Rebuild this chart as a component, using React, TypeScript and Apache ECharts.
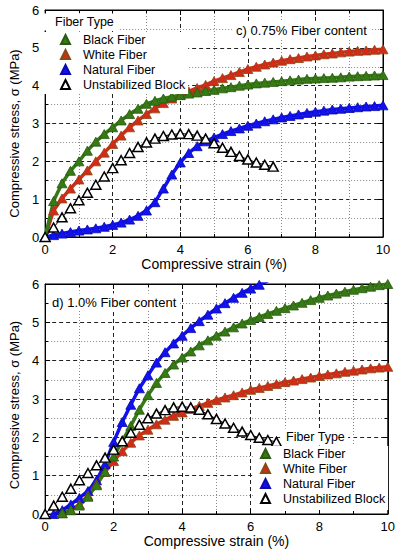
import React, { useEffect, useRef } from "react";
import * as echarts from "echarts";

const FONT = "'Liberation Sans', Arial, Helvetica, sans-serif";

// Strain grid (%) shared by every curve
const strain = [
  0, 0.25, 0.5, 0.75, 1, 1.25, 1.5, 1.75, 2, 2.25, 2.5, 2.75, 3, 3.25, 3.5, 3.75, 4, 4.25, 4.5, 4.75,
  5, 5.25, 5.5, 5.75, 6, 6.25, 6.5, 6.75, 7, 7.25, 7.5, 7.75, 8, 8.25, 8.5, 8.75, 9, 9.25, 9.5, 9.75, 10,
];

const fiberTypes = ["Black Fiber", "White Fiber", "Natural Fiber", "Unstabilized Block"];

// c) 0.75% fibre content — compressive stress (MPa)
const c_black = [
  0, 0.95, 1.42, 1.75, 2.0, 2.28, 2.52, 2.72, 2.9, 3.08, 3.25, 3.39, 3.52, 3.6, 3.66, 3.71, 3.75, 3.79, 3.82, 3.86,
  3.89, 3.93, 3.96, 4.0, 4.03, 4.06, 4.08, 4.1, 4.12, 4.14, 4.16, 4.18, 4.19, 4.2, 4.21, 4.22, 4.24, 4.25, 4.26, 4.27, 4.28,
];
const c_white = [
  0, 0.7, 1.02, 1.28, 1.52, 1.76, 2.0, 2.23, 2.46, 2.68, 2.9, 3.08, 3.25, 3.4, 3.54, 3.66, 3.76, 3.85, 3.94, 4.02,
  4.12, 4.2, 4.28, 4.36, 4.44, 4.5, 4.56, 4.61, 4.66, 4.7, 4.73, 4.77, 4.8, 4.83, 4.85, 4.88, 4.9, 4.92, 4.93, 4.95, 4.96,
];
const c_natural = [
  0, 0.05, 0.09, 0.13, 0.17, 0.2, 0.23, 0.27, 0.32, 0.38, 0.46, 0.56, 0.7, 0.92, 1.28, 1.65, 1.97, 2.22, 2.4, 2.53,
  2.63, 2.72, 2.8, 2.87, 2.94, 3.0, 3.06, 3.11, 3.16, 3.2, 3.24, 3.28, 3.31, 3.34, 3.37, 3.39, 3.41, 3.43, 3.45, 3.46, 3.48,
];
const c_unstab = [
  0, 0.25, 0.52, 0.76, 0.97, 1.17, 1.38, 1.6, 1.82, 2.03, 2.22, 2.38, 2.5, 2.6, 2.67, 2.71, 2.73, 2.72, 2.68, 2.6,
  2.48, 2.36, 2.25, 2.14, 2.05, 1.97, 1.91, 1.86,
];

// d) 1.0% fibre content — compressive stress (MPa)
const d_black = [
  null, null, 0.02, 0.1, 0.22, 0.45, 0.75, 1.1, 1.5, 1.9, 2.3, 2.72, 3.1, 3.42, 3.68, 3.9, 4.08, 4.24, 4.4, 4.53,
  4.65, 4.76, 4.87, 4.97, 5.06, 5.14, 5.22, 5.3, 5.37, 5.44, 5.51, 5.58, 5.64, 5.7, 5.75, 5.8, 5.85, 5.89, 5.93, 5.97, 6.0,
];
const d_white = [
  null, null, 0.02, 0.1, 0.25, 0.48, 0.78, 1.1, 1.38, 1.64, 1.86, 2.05, 2.2, 2.34, 2.46, 2.56, 2.65, 2.74, 2.82, 2.9,
  2.97, 3.04, 3.1, 3.17, 3.24, 3.29, 3.34, 3.39, 3.44, 3.48, 3.52, 3.56, 3.6, 3.64, 3.67, 3.71, 3.74, 3.77, 3.8, 3.82, 3.84,
];
const d_natural = [
  null, 0.0, 0.1, 0.25, 0.42, 0.6, 0.88, 1.3, 1.88, 2.4, 2.85, 3.28, 3.62, 3.95, 4.22, 4.45, 4.65, 4.85, 5.03, 5.2,
  5.36, 5.5, 5.64, 5.77, 5.88, 5.98, 6.08,
];
const d_unstab = [
  0, 0.22, 0.45, 0.66, 0.88, 1.07, 1.27, 1.47, 1.68, 1.9, 2.12, 2.33, 2.5, 2.62, 2.71, 2.78, 2.8, 2.78, 2.72, 2.6,
  2.48, 2.36, 2.25, 2.15, 2.06, 1.99, 1.93, 1.88,
];

const GREEN = "#357a14";
const RED = "#d42a18";
const BLUE = "#1212f0";

function pairs(ys: (number | null)[]) {
  return ys.map((y, i) => [strain[i], y]);
}

function xAx(gridIndex: number, mirror: boolean) {
  return {
    type: "value",
    gridIndex,
    min: 0,
    max: 10,
    interval: 2,
    position: mirror ? "top" : "bottom",
    axisLine: { show: true, onZero: false, lineStyle: { color: "#000", width: 1 } },
    axisTick: { show: true, inside: true, length: 5, lineStyle: { color: "#000" } },
    minorTick: { show: true, splitNumber: 2, length: 3, lineStyle: { color: "#000" } },
    axisLabel: { show: !mirror, color: "#000", fontSize: 13, margin: 6, fontFamily: FONT },
    splitLine: { show: !mirror, lineStyle: { color: "#222", width: 1, type: [4, 3] } },
    minorSplitLine: { show: !mirror, lineStyle: { color: "#888", width: 1, type: [1, 2] } },
    name: mirror ? "" : "Compressive strain (%)",
    nameLocation: "middle",
    nameGap: 19,
    nameTextStyle: { fontSize: 14, color: "#000", fontFamily: FONT },
  };
}

function yAx(gridIndex: number, mirror: boolean, shift: number) {
  return {
    type: "value",
    gridIndex,
    min: 0,
    max: 6,
    interval: 1,
    position: mirror ? "right" : "left",
    axisLine: { show: true, onZero: false, lineStyle: { color: "#000", width: 1 } },
    axisTick: { show: true, inside: true, length: 5, lineStyle: { color: "#000" } },
    minorTick: { show: true, splitNumber: 2, length: 3, lineStyle: { color: "#000" } },
    axisLabel: { show: !mirror, color: "#000", fontSize: 13, margin: 6, fontFamily: FONT },
    splitLine: { show: !mirror, lineStyle: { color: "#222", width: 1, type: [4, 3] } },
    minorSplitLine: { show: !mirror, lineStyle: { color: "#888", width: 1, type: [1, 2] } },
    name: mirror ? "" : "Compressive stress, σ (MPa)",
    nameLocation: "middle",
    nameGap: 20,
    nameTextStyle: { fontSize: 13, color: "#000", fontFamily: FONT, padding: [0, shift, 0, 0] },
  };
}

function fiberSeries(name: string, ys: (number | null)[], g: number, color: string, border: string) {
  return {
    type: "line",
    name,
    xAxisIndex: g,
    yAxisIndex: g,
    data: pairs(ys),
    symbol: "triangle",
    symbolSize: [10, 9],
    showAllSymbol: true,
    connectNulls: false,
    lineStyle: { color, width: 3.5 },
    itemStyle: { color, borderColor: border, borderWidth: 0.8 },
    emphasis: { disabled: true },
  };
}

function unstabSeries(ys: (number | null)[], g: number) {
  return {
    type: "line",
    name: "Unstabilized Block",
    xAxisIndex: g,
    yAxisIndex: g,
    data: pairs(ys),
    symbol: "triangle",
    symbolSize: [10, 9],
    showAllSymbol: true,
    lineStyle: { color: "#000", width: 1 },
    itemStyle: { color: "#fff", borderColor: "#000", borderWidth: 1.5 },
    emphasis: { disabled: true },
  };
}

function legendAt(left: number, top: number, padding: number[]) {
  return {
    show: true,
    orient: "vertical",
    left,
    top,
    padding,
    backgroundColor: "#fff",
    itemWidth: 9,
    itemHeight: 9,
    itemGap: 0,
    icon: "triangle",
    selectedMode: false,
    textStyle: { fontSize: 12.5, color: "#000", fontFamily: FONT, lineHeight: 15, padding: [0, 0, 0, 8] },
    data: fiberTypes,
  };
}

function label(text: string, x: number, y: number, size: number, padding: number[]) {
  return {
    type: "text",
    x,
    y,
    z: 100,
    style: {
      text,
      fontSize: size,
      fontFamily: FONT,
      fill: "#000",
      verticalAlign: "middle",
      backgroundColor: "#fff",
      padding,
    },
  };
}

export default function App() {
  const ref = useRef<HTMLDivElement>(null);
  useEffect(() => {
    if (!ref.current) return;
    const chart = echarts.init(ref.current, undefined, { renderer: "svg" });
    chart.setOption({
      animation: false,
      backgroundColor: "#fff",
      grid: [
        { left: 41, top: 10, width: 342, height: 227, show: true, borderColor: "#000", borderWidth: 1, backgroundColor: "#fff" },
        { left: 36, top: 284, width: 352, height: 230, show: true, borderColor: "#000", borderWidth: 1, backgroundColor: "#fff" },
      ],
      xAxis: [xAx(0, false), xAx(1, false), xAx(0, true), xAx(1, true)],
      yAxis: [yAx(0, false, 20), yAx(1, false, 12), yAx(0, true, 0), yAx(1, true, 0)],
      legend: [legendAt(42, 32, [0, 3, 2, 18]), legendAt(253, 446, [0, 3, 4, 7])],
      graphic: [
        label("Fiber Type", 42, 22, 12.5, [2, 4, 2, 13]),
        label("c) 0.75% Fiber content", 233, 30, 13, [2, 3, 2, 3]),
        label("d) 1.0% Fiber content", 49, 302, 13, [2, 3, 2, 3]),
        label("Fiber Type", 283, 437, 12.5, [2, 3, 2, 3]),
      ],
      series: [
        fiberSeries("Natural Fiber", c_natural, 0, BLUE, "#0a0ab0"),
        fiberSeries("White Fiber", c_white, 0, RED, "#8a4a16"),
        fiberSeries("Black Fiber", c_black, 0, GREEN, "#2a5a10"),
        unstabSeries(c_unstab, 0),
        fiberSeries("Natural Fiber", d_natural, 1, BLUE, "#0a0ab0"),
        fiberSeries("White Fiber", d_white, 1, RED, "#8a4a16"),
        fiberSeries("Black Fiber", d_black, 1, GREEN, "#2a5a10"),
        unstabSeries(d_unstab, 1),
      ],
    });
    return () => chart.dispose();
  }, []);
  return (
    <div
      ref={ref}
      style={{ position: "fixed", left: 0, top: 0, width: 398, height: 550, background: "#fff" }}
    />
  );
}
